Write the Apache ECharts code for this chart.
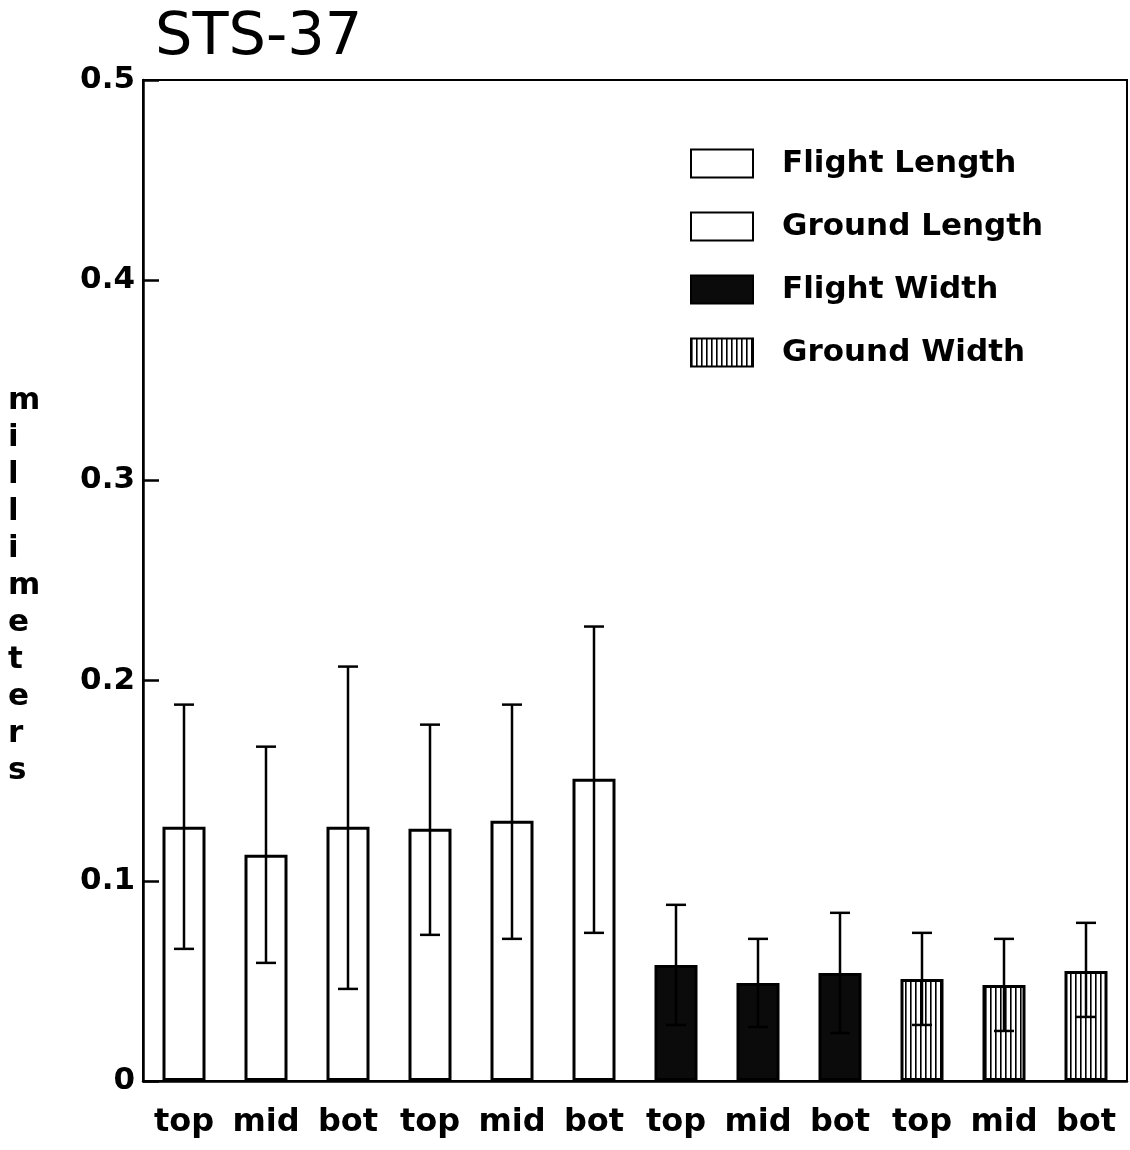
<!DOCTYPE html>
<html>
<head>
<meta charset="utf-8">
<script src="https://cdn.jsdelivr.net/npm/echarts@6/dist/echarts.min.js"></script>
<style>
  html, body { margin: 0; padding: 0; background: #fff; }
  #chart { width: 1130px; height: 1150px; }
</style>
</head>
<body>
<div id="chart"></div>
<script>
// STS-37 : mean +/- sd, millimeters
const categories = ['top', 'mid', 'bot', 'top', 'mid', 'bot', 'top', 'mid', 'bot', 'top', 'mid', 'bot'];
const seriesNames = ['Flight Length', 'Ground Length', 'Flight Width', 'Ground Width'];
const flightLength = [0.127, 0.113, 0.127];
const groundLength = [0.126, 0.130, 0.151];
const flightWidth = [0.058, 0.049, 0.054];
const groundWidth = [0.051, 0.048, 0.055];
// error bar ends (low, high) per category, in order
const errLow = [0.066, 0.059, 0.046, 0.073, 0.071, 0.074, 0.028, 0.027, 0.024, 0.028, 0.025, 0.032];
const errHigh = [0.188, 0.167, 0.207, 0.178, 0.188, 0.227, 0.088, 0.071, 0.084, 0.074, 0.071, 0.079];
const yTicks = [0, 0.1, 0.2, 0.3, 0.4, 0.5];
const yLabel = 'millimeters';

(function () {
  const FONT = 'DejaVu Sans';

  function stripes() {
    const c = document.createElement('canvas');
    c.width = 5; c.height = 10;
    const ctx = c.getContext('2d');
    ctx.fillStyle = '#fff';
    ctx.fillRect(0, 0, 5, 10);
    ctx.fillStyle = '#000';
    ctx.fillRect(0, 0, 1.6, 10);
    return c;
  }

  // place a group's 3 values into the 12 slots
  function slot(vals, group) {
    const out = categories.map(() => null);
    vals.forEach((v, i) => { out[group * 3 + i] = v; });
    return out;
  }

  const fills = ['#fff', '#fff', '#0b0b0b', { image: stripes(), repeat: 'repeat' }];
  const groups = [flightLength, groundLength, flightWidth, groundWidth];

  const barSeries = groups.map((vals, g) => ({
    name: seriesNames[g],
    type: 'bar',
    data: slot(vals, g),
    barWidth: 43,
    barGap: '-100%',
    itemStyle: { color: fills[g], borderColor: '#000', borderWidth: 3 },
    emphasis: { disabled: true },
    z: 1
  }));

  const errSeries = {
    type: 'custom',
    data: categories.map((c, i) => [i, errLow[i], errHigh[i]]),
    z: 5,
    renderItem: function (params, api) {
      const x = api.value(0);
      const lo = api.coord([x, api.value(1)]);
      const hi = api.coord([x, api.value(2)]);
      const w = 10;
      const st = { stroke: '#000', lineWidth: 2.5 };
      return {
        type: 'group',
        children: [
          { type: 'line', shape: { x1: lo[0], y1: lo[1], x2: hi[0], y2: hi[1] }, style: st },
          { type: 'line', shape: { x1: hi[0] - w, y1: hi[1], x2: hi[0] + w, y2: hi[1] }, style: st },
          { type: 'line', shape: { x1: lo[0] - w, y1: lo[1], x2: lo[0] + w, y2: lo[1] }, style: st }
        ]
      };
    }
  };

  const chart = echarts.init(document.getElementById('chart'));
  chart.setOption({
    animation: false,
    backgroundColor: '#fff',
    title: {
      text: 'STS-37', left: 150, top: 4,
      textStyle: { fontFamily: FONT, fontSize: 59, fontWeight: 'normal', color: '#000' }
    },
    legend: {
      data: seriesNames,
      orient: 'vertical',
      left: 685, top: 143,
      itemWidth: 62, itemHeight: 28, itemGap: 32,
      icon: 'rect',
      selectedMode: false,
      itemStyle: { borderColor: '#000', borderWidth: 2 },
      textStyle: { fontFamily: FONT, fontSize: 31, fontWeight: 'bold', color: '#000', padding: [0, 0, 0, 24] }
    },
    grid: {
      left: 143, right: 3, top: 80, bottom: 69,
      show: true, borderColor: '#000', borderWidth: 2
    },
    xAxis: {
      type: 'category',
      data: categories,
      z: 10,
      axisLine: { lineStyle: { color: '#000', width: 2.5 } },
      axisTick: { inside: true, alignWithLabel: true, length: 11, lineStyle: { color: '#000', width: 2.5 } },
      axisLabel: { fontFamily: FONT, fontSize: 32, fontWeight: 'bold', color: '#000', margin: 26, interval: 0 }
    },
    yAxis: {
      type: 'value',
      min: yTicks[0], max: yTicks[yTicks.length - 1], interval: 0.1,
      splitLine: { show: false },
      axisLine: { show: true, lineStyle: { color: '#000', width: 2.5 } },
      axisTick: { show: true, inside: true, length: 16, lineStyle: { color: '#000', width: 2.5 } },
      axisLabel: {
        fontFamily: FONT, fontSize: 31, fontWeight: 'bold', color: '#000', margin: 8,
        formatter: v => (v === 0 ? '0' : v.toFixed(1))
      }
    },
    graphic: [{
      type: 'text',
      left: 8, top: 382,
      style: {
        text: yLabel.split('').join('\n'),
        fontFamily: FONT, fontSize: 31, fontWeight: 'bold', fill: '#000',
        lineHeight: 37, align: 'center'
      }
    }],
    series: barSeries.concat([errSeries])
  });
})();
</script>
</body>
</html>
